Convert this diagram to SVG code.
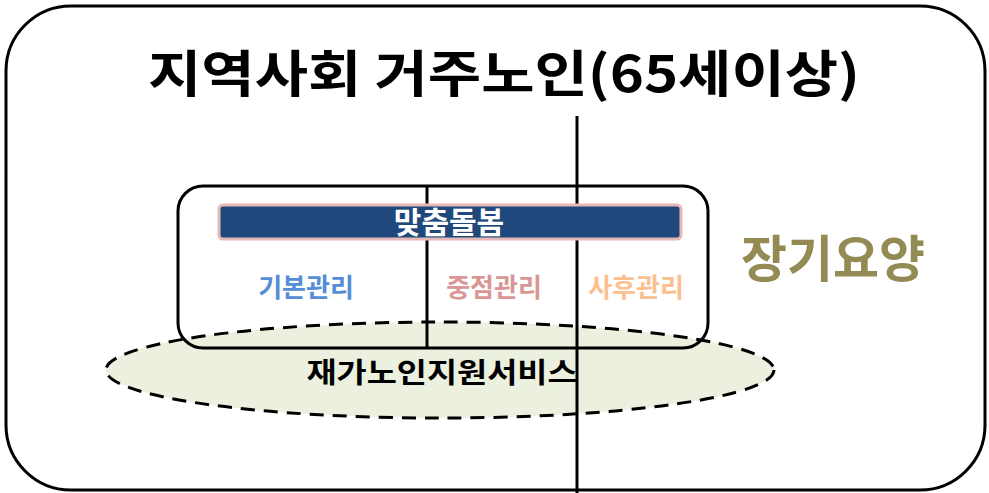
<svg xmlns="http://www.w3.org/2000/svg" width="989" height="493" viewBox="0 0 989 493">
<style>
.t{font-family:"Noto Sans CJK KR","Noto Sans",sans-serif;font-weight:bold;text-anchor:middle}
.ln{stroke:#000;stroke-width:3;fill:none}
</style>
<rect width="989" height="493" fill="#fff"/>
<g id="outer">
<rect x="6" y="6" width="979" height="484" rx="65" ry="65" fill="#fff" stroke="#000" stroke-width="3"/>
<text class="t" x="504" y="92" font-size="50" textLength="712" lengthAdjust="spacingAndGlyphs">지역사회 거주노인(65세이상)</text>
</g>
<g id="inner-box-bg">
<rect x="178" y="186" width="530" height="162" rx="25" ry="25" fill="#fff"/>
</g>
<g id="home-service">
<ellipse cx="440" cy="370" rx="334" ry="48" fill="#EBF1DE" stroke="#000" stroke-width="3" stroke-dasharray="14 9"/>
<text class="t" x="442" y="383" font-size="28" fill="#000" textLength="271" lengthAdjust="spacingAndGlyphs">재가노인지원서비스</text>
</g>
<g id="connectors">
<line x1="577" y1="116" x2="577" y2="493" class="ln"/>
<line x1="427" y1="186" x2="427" y2="348" class="ln"/>
</g>
<g id="custom-care">
<rect x="178" y="186" width="530" height="162" rx="25" ry="25" class="ln"/>
<rect x="219" y="205" width="462" height="34" rx="4" fill="#1F497D" stroke="#E6B9B8" stroke-width="3"/>
<text class="t" x="449" y="233" font-size="30" fill="#fff">맞춤돌봄</text>
<text class="t" x="306" y="297" font-size="26" fill="#558ED5">기본관리</text>
<text class="t" x="494" y="297" font-size="26" fill="#D99694">중점관리</text>
<text class="t" x="636" y="297" font-size="26" fill="#FAC090">사후관리</text>
</g>
<g id="longterm">
<text class="t" x="833" y="277" font-size="50" fill="#948A54">장기요양</text>
</g>
</svg>
